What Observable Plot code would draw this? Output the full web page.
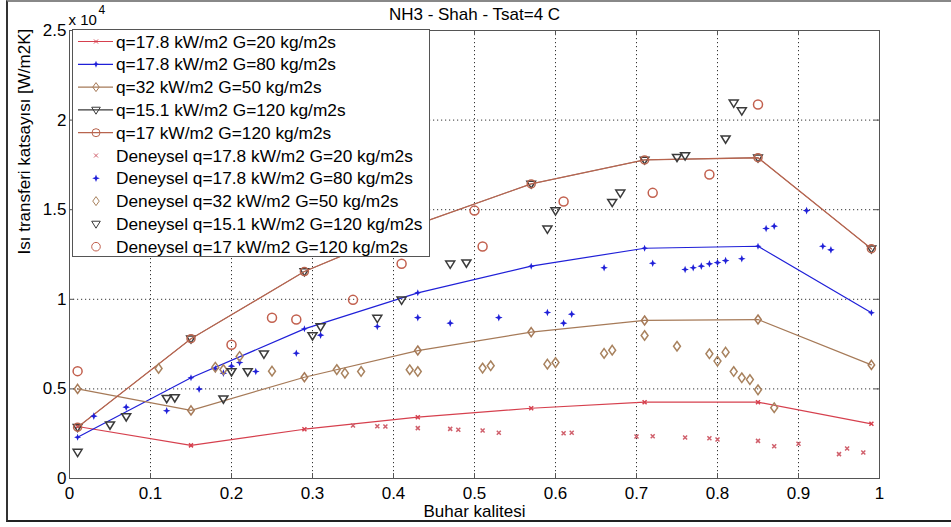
<!DOCTYPE html>
<html><head><meta charset="utf-8">
<script src="https://cdn.jsdelivr.net/npm/d3@7"></script>
<script src="https://cdn.jsdelivr.net/npm/@observablehq/plot@0.6"></script>
<style>
body{margin:0;background:#fff;font-family:"Liberation Sans",Arial,sans-serif;}
#wrap{position:relative;width:951px;height:527px;overflow:hidden;background:#fff;}
#wrap svg{display:block;}
#border{position:absolute;left:6px;top:0;width:960px;height:522px;border-left:2px solid #333;border-top:2px solid #888;border-bottom:2px solid #222;pointer-events:none;box-sizing:border-box;}
</style></head><body><div id="wrap"></div>
<script>
// ---- tick values ----
const xTicks = [0,0.1,0.2,0.3,0.4,0.5,0.6,0.7,0.8,0.9,1];
const yTicks = [0,5000,10000,15000,20000,25000];

// ---- model (Shah) curves ----
const modelX      = [0.01,0.15,0.29,0.43,0.57,0.71,0.85,0.99];
const modelQ178G20  = [2900,1850,2750,3420,3920,4260,4260,3050];
const modelQ178G80  = [2300,5620,8350,10360,11850,12850,12960,9250];
const modelQ32G50   = [5000,3800,5650,7140,8170,8820,8870,6340];
const modelQ151G120 = [2860,7800,11550,14200,16440,17780,17900,12820];
const modelQ17G120  = [2860,7800,11550,14200,16440,17780,17900,12820];

// ---- experimental (Deneysel) ----
const expQ178G20X = [0.35,0.38,0.39,0.43,0.47,0.48,0.51,0.53,0.61,0.62,0.70,0.72,0.76,0.79,0.80,0.85,0.87,0.90,0.95,0.96,0.98];
const expQ178G20Y = [2960,2920,2900,2810,2770,2720,2680,2550,2530,2550,2340,2360,2290,2250,2180,2100,1800,1940,1360,1670,1450];

const expQ178G80X = [0.03,0.07,0.12,0.16,0.18,0.19,0.20,0.21,0.23,0.28,0.31,0.38,0.43,0.47,0.53,0.59,0.61,0.62,0.66,0.72,0.76,0.77,0.78,0.79,0.80,0.81,0.83,0.86,0.87,0.91,0.93,0.94];
const expQ178G80Y = [3480,3980,3780,4990,6120,5880,6270,6470,5970,6990,8000,8480,8980,8670,8980,9260,8670,9170,11760,12010,11660,11760,11850,11980,12050,12160,12260,13950,14080,14950,12960,12760];

const expQ32G50X = [0.11,0.18,0.19,0.21,0.25,0.33,0.34,0.36,0.42,0.43,0.51,0.52,0.59,0.60,0.66,0.67,0.71,0.75,0.79,0.80,0.81,0.82,0.83,0.84,0.85,0.87];
const expQ32G50Y = [6140,6210,6080,6810,5990,6080,5880,5970,6070,5970,6160,6290,6380,6470,6980,7160,7980,7380,6960,6550,7050,5970,5620,5520,4950,3950];

const expQ151G120X = [0.01,0.05,0.07,0.12,0.13,0.19,0.20,0.22,0.24,0.30,0.31,0.38,0.41,0.47,0.49,0.59,0.60,0.67,0.68,0.75,0.76,0.81,0.82,0.83];
const expQ151G120Y = [1470,3000,3460,4480,4520,4450,5970,5970,6960,7980,8480,8950,9970,11980,12040,13930,14950,15420,15940,17930,18020,18960,20960,20530];

const expQ17G120X = [0.01,0.20,0.25,0.28,0.35,0.41,0.50,0.51,0.61,0.72,0.79,0.85];
const expQ17G120Y = [5990,7460,8970,8870,9970,11980,14950,12950,15460,15940,16960,20870];

// ---- labels ----
const titleText = "NH3 - Shah - Tsat=4 C";
const xLabel = "Buhar kalitesi";
const yLabel = "Isı transferi katsayısı [W/m2K]";
const legendLabels = [
  "q=17.8 kW/m2 G=20 kg/m2s",
  "q=17.8 kW/m2 G=80 kg/m2s",
  "q=32 kW/m2 G=50 kg/m2s",
  "q=15.1 kW/m2 G=120 kg/m2s",
  "q=17 kW/m2 G=120 kg/m2s",
  "Deneysel q=17.8 kW/m2 G=20 kg/m2s",
  "Deneysel q=17.8 kW/m2 G=80 kg/m2s",
  "Deneysel q=32 kW/m2 G=50 kg/m2s",
  "Deneysel q=15.1 kW/m2 G=120 kg/m2s",
  "Deneysel q=17 kW/m2 G=120 kg/m2s"
];

// ---- colours ----
const cRed = "#d6404e", cRedExp = "#d0606c";
const cBlue = "#2020d8";
const cTan = "#a67a58", cTanExp = "#a8825e";
const cDark = "#3a3a3a";
const cBrown = "#b8644e", cBrownExp = "#c2604e";

// ---- custom symbols ----
const poly = pts => ({draw(ctx, size){ const r = Math.sqrt(size/Math.PI);
  ctx.moveTo(pts[0][0]*r, pts[0][1]*r);
  for (let i=1;i<pts.length;i++) ctx.lineTo(pts[i][0]*r, pts[i][1]*r);
  ctx.closePath(); }});
const triDown = poly([[-1,-0.62],[1,-0.62],[0,1]]);
const diamond = poly([[0,-1],[0.72,0],[0,1],[-0.72,0]]);
const star4 = poly([[0,-1],[0.28,-0.28],[1,0],[0.28,0.28],[0,1],[-0.28,0.28],[-1,0],[-0.28,-0.28]]);
const cross = {draw(ctx,size){ const r=Math.sqrt(size/Math.PI); ctx.moveTo(-r,-r); ctx.lineTo(r,r); ctx.moveTo(r,-r); ctx.lineTo(-r,r); }};
const circ = {draw(ctx,size){ const r=Math.sqrt(size/Math.PI); ctx.moveTo(r,0); ctx.arc(0,0,r,0,2*Math.PI); }};

const toRows = (xs, ys) => xs.map((x,i)=>({x, y: ys[i]}));
const m1 = toRows(modelX, modelQ178G20), m2 = toRows(modelX, modelQ178G80), m3 = toRows(modelX, modelQ32G50),
      m4 = toRows(modelX, modelQ151G120), m5 = toRows(modelX, modelQ17G120);
const e1 = toRows(expQ178G20X, expQ178G20Y), e2 = toRows(expQ178G80X, expQ178G80Y), e3 = toRows(expQ32G50X, expQ32G50Y),
      e4 = toRows(expQ151G120X, expQ151G120Y), e5 = toRows(expQ17G120X, expQ17G120Y);

const W = 951, H = 527, mL = 69, mR = 72, mT = 30, mB = 49;
const fw = W - mL - mR, fh = H - mT - mB;
const axisCol = "#555";
const grid = {stroke:"#000", strokeOpacity:0.8, strokeDasharray:"1.2,2.8", strokeWidth:1};

const chart = Plot.plot({
  width: W, height: H, marginLeft: mL, marginRight: mR, marginTop: mT, marginBottom: mB,
  style: {fontFamily: "'Liberation Sans', Arial, sans-serif", fontSize: "17px", background: "#fff", color: "#000"},
  x: {domain: [0,1]},
  y: {domain: [0,25000]},
  marks: [
    Plot.gridX(xTicks, grid),
    Plot.gridY(yTicks, grid),
    Plot.ruleX(xTicks, {x: d=>d, insetTop: fh-5, stroke: axisCol}),
    Plot.ruleX(xTicks, {x: d=>d, insetBottom: fh-5, stroke: axisCol}),
    Plot.ruleY(yTicks, {y: d=>d, insetRight: fw-5, stroke: axisCol}),
    Plot.ruleY(yTicks, {y: d=>d, insetLeft: fw-5, stroke: axisCol}),
    Plot.frame({stroke: axisCol}),
    Plot.axisX(xTicks, {tickSize: 0, tickPadding: 8, tickFormat: d => String(+d.toFixed(1)), label: null}),
    Plot.axisY(yTicks, {tickSize: 0, tickPadding: 3, tickFormat: d => String(d/10000), label: null}),
    // model lines
    Plot.line(m1, {x:"x", y:"y", stroke: cRed, strokeWidth: 1.2}),
    Plot.dot(m1, {x:"x", y:"y", symbol: cross, r: 2, stroke: cRed, fill: "none"}),
    Plot.line(m2, {x:"x", y:"y", stroke: cBlue, strokeWidth: 1.2}),
    Plot.dot(m2, {x:"x", y:"y", symbol: star4, r: 3.5, fill: cBlue, stroke: "none"}),
    Plot.line(m3, {x:"x", y:"y", stroke: cTan, strokeWidth: 1.2}),
    Plot.dot(m3, {x:"x", y:"y", symbol: diamond, r: 4.5, stroke: cTan, fill: "none"}),
    Plot.line(m4, {x:"x", y:"y", stroke: cDark, strokeWidth: 0.6}),
    Plot.dot(m4, {x:"x", y:"y", symbol: triDown, r: 4.3, stroke: cDark, fill: "none"}),
    Plot.line(m5, {x:"x", y:"y", stroke: cBrown, strokeWidth: 1.3}),
    Plot.dot(m5, {x:"x", y:"y", symbol: circ, r: 4, stroke: cBrown, fill: "none"}),
    // experimental
    Plot.dot(e1, {x:"x", y:"y", symbol: cross, r: 2, stroke: cRedExp, fill: "none"}),
    Plot.dot(e2, {x:"x", y:"y", symbol: star4, r: 3.8, fill: cBlue, stroke: "none"}),
    Plot.dot(e3, {x:"x", y:"y", symbol: diamond, r: 4.8, stroke: cTanExp, fill: "none"}),
    Plot.dot(e4, {x:"x", y:"y", symbol: triDown, r: 4.5, stroke: cDark, fill: "none"}),
    Plot.dot(e5, {x:"x", y:"y", symbol: circ, r: 4.5, stroke: cBrownExp, fill: "none"}),
    // texts
    Plot.text([titleText], {frameAnchor: "top", dy: -16, lineAnchor: "middle", text: d=>d, fill: "#000"}),
    Plot.text([xLabel], {frameAnchor: "bottom", dy: 33, lineAnchor: "middle", text: d=>d, fill: "#000"}),
    Plot.text([yLabel], {frameAnchor: "left", dx: -45, rotate: -90, lineAnchor: "middle", text: d=>d, fill: "#000"}),
    Plot.text(["x 10"], {frameAnchor: "top-left", dx: -1, dy: -10, textAnchor: "start", lineAnchor: "middle", fontSize: 15, text: d=>d, fill: "#000"}),
    Plot.text(["4"], {frameAnchor: "top-left", dx: 29, dy: -20, textAnchor: "start", lineAnchor: "middle", fontSize: 12, text: d=>d, fill: "#000"})
  ]
});

const wrap = document.getElementById("wrap");
wrap.appendChild(chart);

// ---- legend (inside plot area, upper-left) ----
const legendSpec = [
  {type:"line", color:cRed, sym:cross, r:2, fill:false},
  {type:"line", color:cBlue, sym:star4, r:3.5, fill:true},
  {type:"line", color:cTan, sym:diamond, r:4.5, fill:false},
  {type:"line", color:cDark, sym:triDown, r:4.3, fill:false},
  {type:"line", color:cBrown, sym:circ, r:4, fill:false},
  {type:"pt", color:cRedExp, sym:cross, r:2, fill:false},
  {type:"pt", color:cBlue, sym:star4, r:3.8, fill:true},
  {type:"pt", color:cTanExp, sym:diamond, r:4.5, fill:false},
  {type:"pt", color:cDark, sym:triDown, r:4.3, fill:false},
  {type:"pt", color:cBrownExp, sym:circ, r:4.3, fill:false}
];
const leg = d3.select(wrap).append("div")
  .style("position","absolute").style("left","72px").style("top","29px")
  .style("width","358px").style("height","228px")
  .style("border","1px solid #555").style("background","#fff").style("box-sizing","border-box");
const lsvg = leg.append("svg").attr("width",356).attr("height",226)
  .style("font-family","'Liberation Sans', Arial, sans-serif").style("font-size","17.3px");
legendSpec.forEach((s,i)=>{
  const cy = 11.5 + i*22.8;
  if (s.type === "line") lsvg.append("line").attr("x1",5).attr("x2",40).attr("y1",cy).attr("y2",cy).attr("stroke",s.color).attr("stroke-width",1.2);
  const size = Math.PI*s.r*s.r;
  lsvg.append("path").attr("transform",`translate(23,${cy})`).attr("d", d3.symbol(s.sym, size)())
    .attr("fill", s.fill ? s.color : "none").attr("stroke", s.fill ? "none" : s.color);
  lsvg.append("text").attr("x",43).attr("y",cy+6).text(legendLabels[i]);
});

d3.select(wrap).append("div").attr("id","border");
</script></body></html>
